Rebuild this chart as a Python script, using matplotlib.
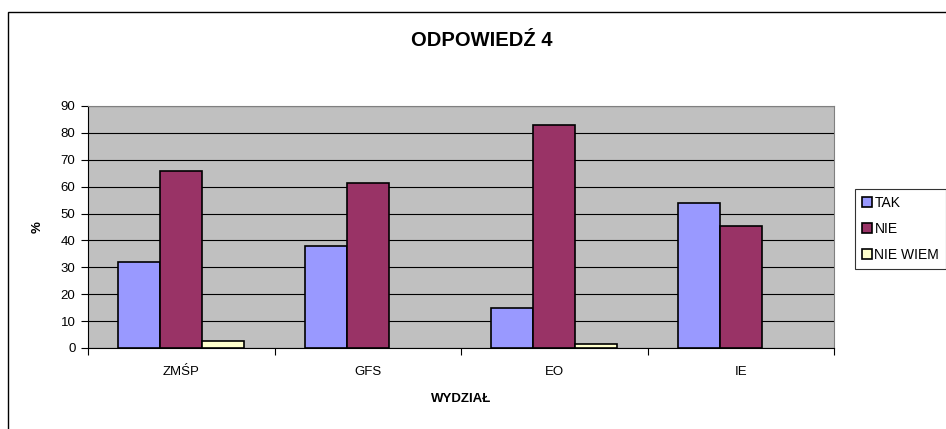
import matplotlib
matplotlib.use("Agg")
import matplotlib.pyplot as plt
import numpy as np
from matplotlib.patches import Rectangle

categories = ["ZMŚP", "GFS", "EO", "IE"]
series_names = ["TAK", "NIE", "NIE WIEM"]
tak = [32, 38, 15, 54]
nie = [66, 61.5, 83, 45.5]
nie_wiem = [2.5, 0, 1.5, 0]
colors = ["#9999FF", "#993366", "#FFFFCC"]
yticks = list(range(0, 91, 10))

plt.rcParams['font.family'] = ['Liberation Sans', 'DejaVu Sans']

W, H = 946, 429
fig = plt.figure(figsize=(W / 100, H / 100), dpi=100)
fig.patch.set_facecolor("white")
# outer frame (extends beyond right and bottom edges)
fig.add_artist(Rectangle((8 / W, -0.05), 1.0, 1 - 12 / H + 0.05,
                         transform=fig.transFigure, fill=False, edgecolor="black", lw=1))

ax = fig.add_axes([88 / W, 1 - 348 / H, (834 - 88) / W, (348 - 106) / H])
ax.set_facecolor("#C0C0C0")
x = np.arange(len(categories))
bw = 0.225
for i, (vals, name) in enumerate(zip([tak, nie, nie_wiem], series_names)):
    v = np.array(vals, dtype=float)
    pos = x + (i - 1) * bw
    mask = v > 0
    ax.bar(pos[mask], v[mask], width=bw, color=colors[i], edgecolor="black",
           linewidth=1.2, label=name, zorder=3)

ax.set_xlim(-0.5, len(categories) - 0.5)
ax.set_ylim(0, 90)
ax.set_yticks(yticks)
ax.set_yticklabels([str(t) for t in yticks], fontsize=9.5)
ax.yaxis.grid(True, color="black", lw=0.8, zorder=1)
ax.set_axisbelow(True)
ax.set_xticks(np.arange(-0.5, len(categories), 1), minor=False)
ax.set_xticklabels([""] * (len(categories) + 1))
ax.set_xticks(x, minor=True)
ax.set_xticklabels(categories, minor=True, fontsize=9.5)
ax.tick_params(axis="x", which="minor", length=0, pad=13)
ax.tick_params(axis="x", which="major", length=5, direction="out")
ax.tick_params(axis="y", length=5, direction="out", pad=4)
for s in ["top", "right"]:
    ax.spines[s].set_color("#808080")
ax.spines["left"].set_color("black")
ax.spines["bottom"].set_color("black")

ax.set_xlabel("WYDZIAŁ", fontsize=9.5, fontweight="bold", labelpad=11)
ax.set_ylabel("%", fontsize=9.5, fontweight="bold", labelpad=12)
fig.text(482 / W, 1 - 40 / H, "ODPOWIEDŹ 4", ha="center", va="center",
         fontsize=14.5, fontweight="bold")

leg = fig.legend(loc="upper left", bbox_to_anchor=(855 / W, 1 - 189 / H),
                 fontsize=10, frameon=True, fancybox=False, edgecolor="black",
                 handlelength=0.7, handleheight=0.7, handletextpad=0.2,
                 borderpad=0.5, labelspacing=0.85, borderaxespad=0)
leg.get_frame().set_linewidth(0.8)

fig.savefig("out.png", dpi=100)
